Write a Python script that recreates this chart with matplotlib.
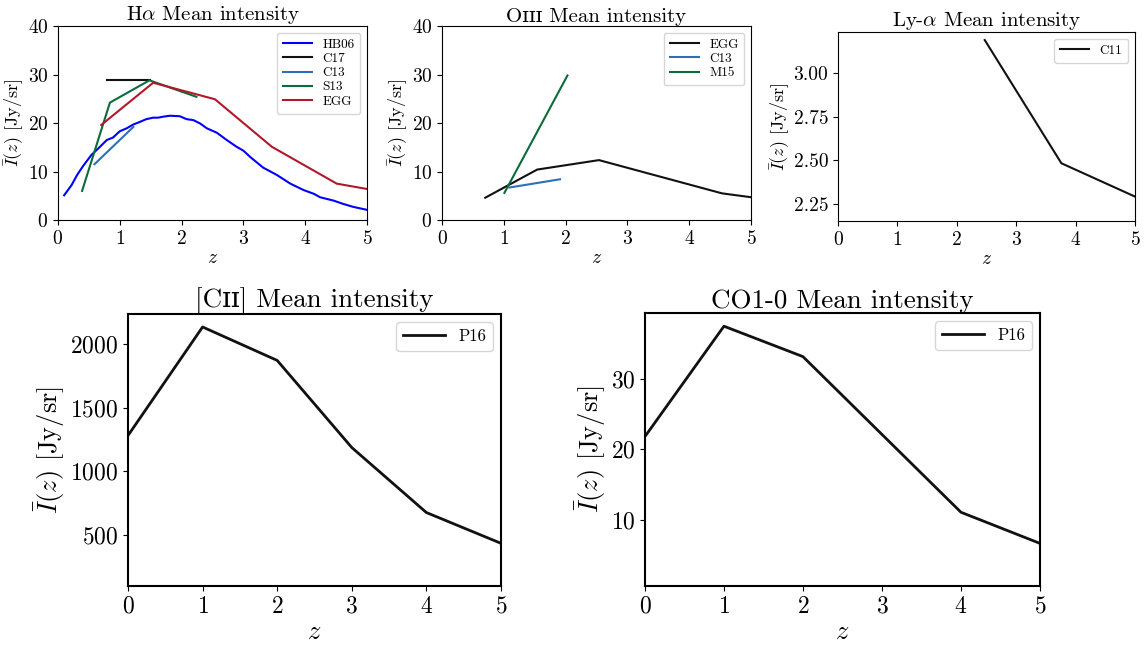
import matplotlib
matplotlib.use('Agg')
import matplotlib.pyplot as plt

plt.rcParams['font.family'] = ['cmr10', 'DejaVu Serif']
plt.rcParams['mathtext.fontset'] = 'cm'
plt.rcParams['axes.formatter.use_mathtext'] = True

# H-alpha
ha_hb06_z = [0.1, 0.22, 0.31, 0.41, 0.54, 0.68, 0.79, 0.89, 1.0, 1.11, 1.22, 1.32, 1.43,
             1.54, 1.62, 1.70, 1.81, 1.97, 2.08, 2.19, 2.30, 2.41, 2.57, 2.73, 2.89, 3.0,
             3.11, 3.32, 3.54, 3.76, 3.97, 4.14, 4.24, 4.46, 4.62, 4.78, 5.0]
ha_hb06 = [5.1, 7.2, 9.3, 11.2, 13.4, 15.1, 16.5, 17.0, 18.3, 18.9, 19.7, 20.2, 20.8,
           21.1, 21.1, 21.3, 21.5, 21.4, 20.8, 20.6, 19.9, 18.9, 18.0, 16.5, 15.1, 14.3,
           13.0, 10.8, 9.3, 7.5, 6.2, 5.4, 4.7, 4.0, 3.3, 2.7, 2.1]
ha_c17_z = [0.8, 1.49]
ha_c17 = [28.9, 28.9]
ha_c13_z = [0.59, 1.22]
ha_c13 = [11.5, 19.2]
ha_s13_z = [0.39, 0.84, 1.48, 2.24]
ha_s13 = [6.0, 24.2, 28.8, 25.4]
ha_egg_z = [0.70, 1.54, 2.54, 3.46, 4.51, 5.0]
ha_egg = [19.6, 28.3, 24.9, 15.1, 7.5, 6.4]

# OIII
o3_egg_z = [0.70, 1.54, 2.54, 4.53, 5.0]
o3_egg = [4.6, 10.4, 12.35, 5.5, 4.7]
o3_c13_z = [1.09, 1.91]
o3_c13 = [6.7, 8.4]
o3_m15_z = [1.01, 2.03]
o3_m15 = [5.6, 29.8]

# Ly-alpha
lya_z = [2.47, 3.76, 5.0]
lya_c11 = [3.186, 2.484, 2.294]

# CII and CO
p16_z = [0, 1, 2, 3, 4, 5]
cii_p16 = [1281, 2131, 1869, 1187, 678, 437]
co_p16 = [21.8, 37.4, 33.1, 22.1, 11.1, 6.7]

BLUE = '#0000ff'
STEEL = '#2f6fb8'
GREEN = '#0b6b3a'
RED = '#b2182b'
BLACK = '#111111'
YLAB = r'$\bar{I}(z)$ [Jy/sr]'

fig = plt.figure(figsize=(11.48, 6.5), dpi=100)

# --- top row ---
ax1 = fig.add_axes([0.0505, 0.6615, 0.2692, 0.2985])
ax1.plot(ha_hb06_z, ha_hb06, color=BLUE, lw=1.5, label='HB06')
ax1.plot(ha_c17_z, ha_c17, color=BLACK, lw=1.5, label='C17')
ax1.plot(ha_c13_z, ha_c13, color=STEEL, lw=1.5, label='C13')
ax1.plot(ha_s13_z, ha_s13, color=GREEN, lw=1.5, label='S13')
ax1.plot(ha_egg_z, ha_egg, color=RED, lw=1.5, label='EGG')
ax1.set_ylim(0, 40)
ax1.set_title(r'H$\alpha$ Mean intensity', fontsize=15, pad=3)

ax2 = fig.add_axes([0.385, 0.6615, 0.2692, 0.2985])
ax2.plot(o3_egg_z, o3_egg, color=BLACK, lw=1.5, label='EGG')
ax2.plot(o3_c13_z, o3_c13, color=STEEL, lw=1.5, label='C13')
ax2.plot(o3_m15_z, o3_m15, color=GREEN, lw=1.5, label='M15')
ax2.set_ylim(0, 40)
ax2.set_title('O\u026a\u026a\u026a Mean intensity', fontsize=15, pad=3)

ax3 = fig.add_axes([0.730, 0.660, 0.2587, 0.2908])
ax3.plot(lya_z, lya_c11, color=BLACK, lw=1.5, label='C11')
ax3.set_ylim(2.155, 3.232)
ax3.set_yticks([2.25, 2.5, 2.75, 3.0])
ax3.set_yticklabels(['2.25', '2.50', '2.75', '3.00'])
ax3.set_title(r'Ly-$\alpha$ Mean intensity', fontsize=15, pad=3)

for ax in (ax1, ax2, ax3):
    ax.set_xlim(0, 5)
    ax.set_xticks([0, 1, 2, 3, 4, 5])
    ax.tick_params(labelsize=14)
    ax.set_xlabel(r'$z$', fontsize=14, labelpad=1)
    ax.set_ylabel(YLAB, fontsize=13, labelpad=1)
    ax.legend(loc='upper right', fontsize=9.5, handlelength=2.2,
              labelspacing=0.15, borderpad=0.45)

# --- bottom row ---
ax4 = fig.add_axes([0.1115, 0.0985, 0.3249, 0.4185])
ax4.plot(p16_z, cii_p16, color=BLACK, lw=2, label='P16')
ax4.set_ylim(103, 2233)
ax4.set_yticks([500, 1000, 1500, 2000])
ax4.set_title('[C\u026a\u026a] Mean intensity', fontsize=19.5, pad=3)

ax5 = fig.add_axes([0.5618, 0.0985, 0.3441, 0.42])
ax5.plot(p16_z, co_p16, color=BLACK, lw=2, label='P16')
ax5.set_ylim(0.68, 39.27)
ax5.set_yticks([10, 20, 30])
ax5.set_title('CO1-0 Mean intensity', fontsize=19.5, pad=3)

for ax in (ax4, ax5):
    ax.set_xlim(0, 5)
    ax.set_xticks([0, 1, 2, 3, 4, 5])
    ax.tick_params(labelsize=17)
    ax.set_xlabel(r'$z$', fontsize=19, labelpad=2)
    ax.set_ylabel(YLAB, fontsize=19, labelpad=2)
    ax.legend(loc='upper right', fontsize=12, handlelength=2.5)
    for s in ax.spines.values():
        s.set_linewidth(1.5)

fig.savefig('out.png', dpi=100)
